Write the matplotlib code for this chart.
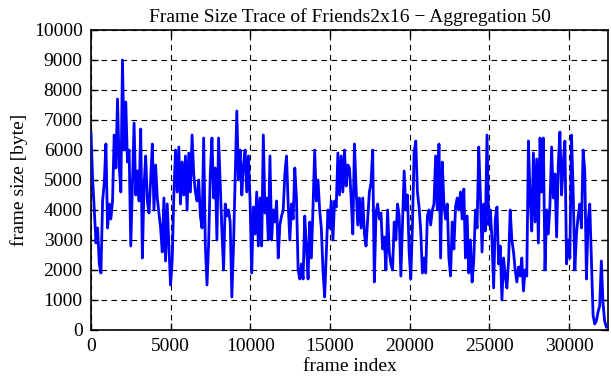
import numpy as np
import matplotlib
matplotlib.use('Agg')
import matplotlib.pyplot as plt

# frame size (in kbyte), one value roughly every 104 frames
seg1 = [6.6, 5.0, 4.0, 2.9, 3.4, 2.2, 1.9, 4.3, 4.9, 6.2, 3.4, 4.2, 3.7, 4.3, 6.5, 5.4, 7.7, 5.5, 4.6, 9.0,
        6.0, 7.6, 5.6, 6.0, 2.8, 4.8, 6.9, 4.5, 5.3, 4.3, 6.7, 2.4, 4.8, 5.8, 4.3, 3.9, 5.0, 6.2, 4.0]
seg2 = [5.5, 4.4, 3.9, 3.4, 2.6, 4.4, 2.3, 4.2, 2.8, 1.5, 2.3, 4.5, 6.0, 4.6, 6.1, 4.2, 5.6, 4.5, 5.8, 4.0,
        5.9, 4.6, 6.5, 5.2, 4.6, 4.3, 5.0, 3.8, 3.4, 6.4, 2.8, 1.5, 2.9, 5.2, 6.4, 4.4, 5.4, 3.0, 6.4]
seg3 = [4.8, 3.3, 2.0, 4.2, 3.8, 4.0, 3.6, 1.1, 2.8, 5.0, 7.3, 5.0, 6.0, 4.5, 5.5, 6.0, 4.6, 5.8, 4.3, 1.9,
        4.1, 3.2, 4.6, 2.8, 4.4, 2.8, 6.5, 3.9, 4.4, 3.0, 5.8, 3.0, 4.0, 3.6, 4.3, 2.4, 3.5, 3.8, 4.0]
seg4 = [5.2, 5.8, 4.2, 3.0, 4.2, 3.7, 5.4, 4.4, 2.0, 1.7, 2.2, 1.7, 3.8, 2.8, 1.7, 3.6, 2.4, 4.1, 6.0, 4.3,
        5.0, 4.0, 3.4, 2.0, 1.1, 2.6, 4.0, 3.4, 4.3, 3.0, 4.3, 4.1, 5.9, 4.5, 5.8, 4.6, 6.0, 4.8, 5.5]
seg5 = [5.4, 4.4, 3.2, 6.2, 4.7, 3.5, 4.4, 3.4, 4.4, 3.2, 2.8, 3.7, 4.6, 4.9, 6.0, 1.6, 3.9, 4.2, 3.7, 3.9,
        2.7, 3.1, 2.0, 4.0, 2.6, 2.2, 2.0, 3.6, 3.0, 4.2, 3.8, 1.8, 3.5, 5.3, 4.0, 4.5, 2.6, 1.7, 3.5]
seg6 = [5.9, 6.3, 4.6, 4.1, 3.3, 1.9, 2.4, 1.9, 3.8, 4.0, 3.5, 4.0, 4.2, 5.8, 4.0, 6.2, 2.4, 5.6, 4.2, 3.7,
        4.2, 2.4, 1.8, 3.6, 2.7, 4.1, 4.4, 4.0, 4.6, 3.7, 4.7, 2.4, 3.8, 1.9, 3.0, 1.6, 2.3, 4.0, 3.4]
seg7 = [6.1, 4.5, 2.6, 4.2, 3.3, 6.5, 3.5, 4.0, 3.0, 1.4, 3.7, 4.1, 2.2, 2.8, 1.0, 2.4, 1.8, 1.4, 2.3, 4.0,
        3.0, 2.6, 2.0, 1.6, 2.1, 1.8, 2.4, 1.3, 2.0, 1.8, 6.3, 4.4, 3.3, 5.9, 3.6, 5.7, 2.9, 6.4, 4.6]
seg8 = [6.4, 2.0, 4.0, 3.2, 4.2, 6.1, 4.4, 5.2, 3.1, 5.5, 6.6, 4.5, 5.6, 6.3, 2.2, 3.0, 2.4, 6.5, 4.6, 2.0,
        3.2, 3.8, 4.2, 3.4, 6.0, 5.3, 1.7, 3.6, 4.2, 2.4, 0.5, 0.2, 0.3, 0.6, 0.8, 2.3, 0.9, 0.3, 0.1]

frame_step = 104
x_max = 32450
x_ticks = [0, 5000, 10000, 15000, 20000, 25000, 30000]
y_ticks = [0, 1000, 2000, 3000, 4000, 5000, 6000, 7000, 8000, 9000, 10000]

size = np.array(seg1 + seg2 + seg3 + seg4 + seg5 + seg6 + seg7 + seg8) * 1000
frame = np.arange(len(size)) * frame_step

plt.rcParams['font.family'] = ['Liberation Serif', 'DejaVu Serif']
plt.rcParams['font.size'] = 14

fig = plt.figure(figsize=(6.11, 3.80), dpi=100)
ax = fig.add_axes([91 / 611, 50 / 380, 517 / 611, 300 / 380])

ax.plot(frame, size, color='#0000ff', lw=2.0, zorder=3)

ax.set_xlim(0, x_max)
ax.set_ylim(0, 10000)
ax.set_xticks(x_ticks)
ax.set_yticks(y_ticks)
ax.grid(True, color='black', linestyle=(0, (5, 4)), linewidth=0.8)
ax.tick_params(direction='in', length=5, width=1, top=True, right=True, pad=6)
for s in ax.spines.values():
    s.set_linewidth(1.2)

ax.set_title('Frame Size Trace of Friends2x16 \u2212 Aggregation 50', fontsize=14, pad=6)
ax.set_xlabel('frame index', labelpad=2)
ax.set_ylabel('frame size [byte]', labelpad=4)

fig.savefig('out.png', dpi=100)
